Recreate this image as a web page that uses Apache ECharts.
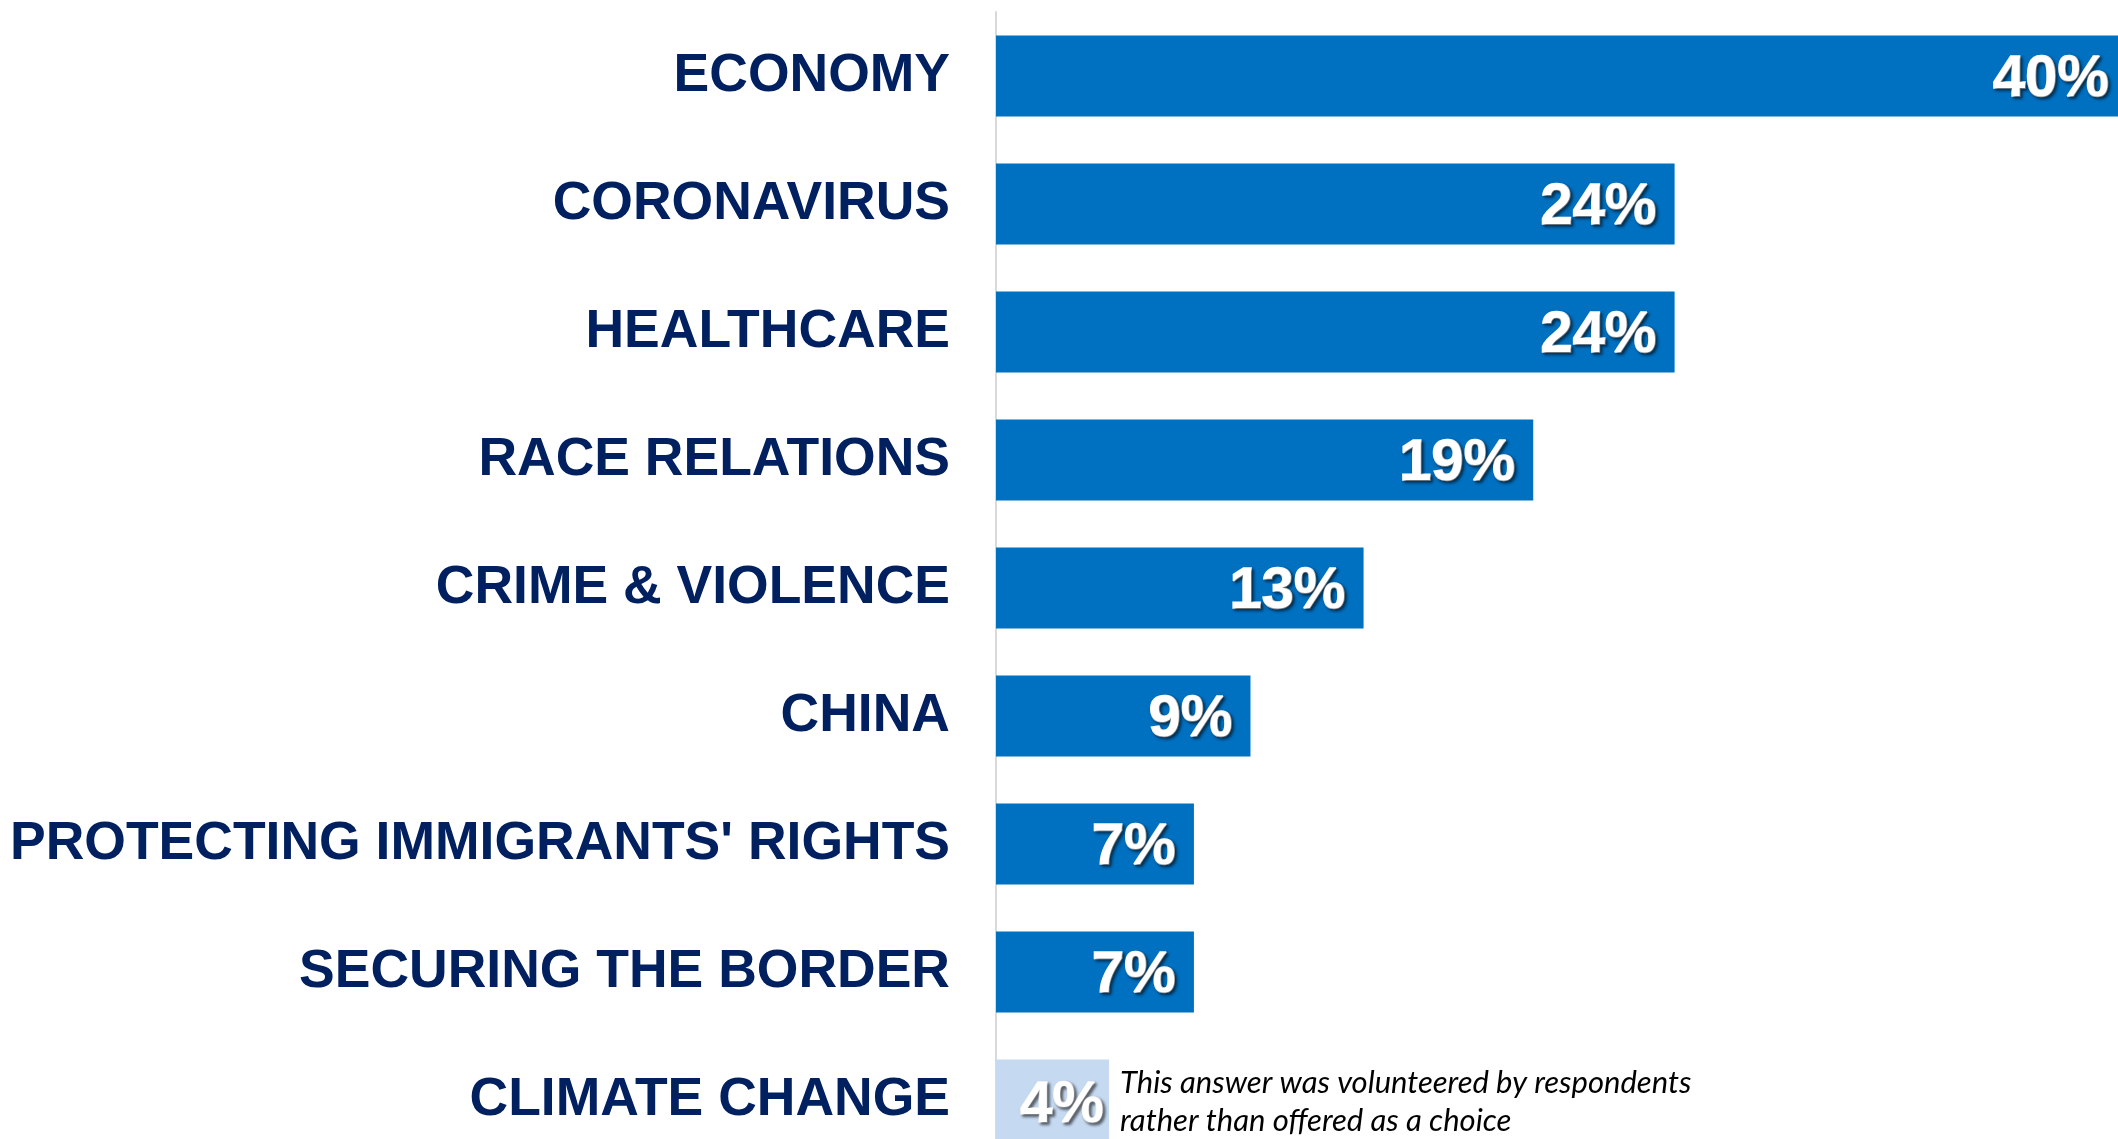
<!DOCTYPE html>
<html>
<head>
<meta charset="utf-8">
<script src="https://cdn.jsdelivr.net/npm/echarts@6/dist/echarts.min.js"></script>
<style>
    html, body { margin: 0; padding: 0; background: #fff; }
    #issues-chart { width: 2118px; height: 1139px; }
</style>
</head>
<body>
<div id="issues-chart"></div>
<script>
// 议题分类
const categories = [
    'ECONOMY',
    'CORONAVIRUS',
    'HEALTHCARE',
    'RACE RELATIONS',
    'CRIME & VIOLENCE',
    'CHINA',
    "PROTECTING IMMIGRANTS' RIGHTS",
    'SECURING THE BORDER',
    'CLIMATE CHANGE'
];
// 百分比
const values = [40, 24, 24, 19, 13, 9, 7, 7, 4];
// 自发回答的项目（浅色）
const volunteered = ['CLIMATE CHANGE'];
const noteText = 'This answer was volunteered by respondents\nrather than offered as a choice';

const labelFont = '"Liberation Sans", Arial, sans-serif';

let myChart = echarts.init(document.getElementById('issues-chart'));

const seriesData = values.map(function (v, i) {
    const isVol = volunteered.indexOf(categories[i]) >= 0;
    return {
        value: v,
        itemStyle: { color: isVol ? '#c5d9f1' : '#0070c0' },
        label: isVol ? { distance: 5, offset: [0, 6] } : {}
    };
});

myChart.setOption({
    animation: false,
    grid: {
        left: 996,
        top: 12,
        width: 1131,
        height: 1152,
        containLabel: false,
        outerBoundsMode: 'none'
    },
    xAxis: {
        type: 'value',
        min: 0,
        max: 40,
        show: false
    },
    yAxis: {
        type: 'category',
        data: categories,
        inverse: true,
        axisTick: { show: false },
        axisLine: {
            show: true,
            lineStyle: { color: '#d9d9d9', width: 2 }
        },
        axisLabel: {
            margin: 46,
            padding: [6, 0, 0, 0],
            color: '#002060',
            fontFamily: labelFont,
            fontWeight: 'bold',
            fontSize: 53.5
        }
    },
    series: [
        {
            type: 'bar',
            data: seriesData,
            barWidth: 81,
            label: {
                show: true,
                position: 'insideRight',
                distance: 18,
                offset: [0, 4],
                formatter: '{c}%',
                color: '#fff',
                fontFamily: labelFont,
                fontWeight: 'bold',
                fontSize: 58,
                textBorderColor: '#fff',
                textBorderWidth: 1.5,
                textShadowColor: 'rgba(0,0,0,0.55)',
                textShadowBlur: 3,
                textShadowOffsetX: 2,
                textShadowOffsetY: 2
            }
        }
    ]
});

// 注释文字放在浅色柱子右边
const volIdx = categories.indexOf(volunteered[0]);
const pt = myChart.convertToPixel({ gridIndex: 0 }, [values[volIdx], categories[volIdx]]);
myChart.setOption({
    graphic: [{
        type: 'text',
        left: pt[0] + 11,
        top: pt[1] - 36,
        style: {
            text: noteText,
            fill: '#000',
            font: 'italic 31px Lato, "Open Sans", sans-serif',
            lineHeight: 38
        }
    }]
});

window.addEventListener('resize', function () {
    myChart.resize();
});
</script>
</body>
</html>
